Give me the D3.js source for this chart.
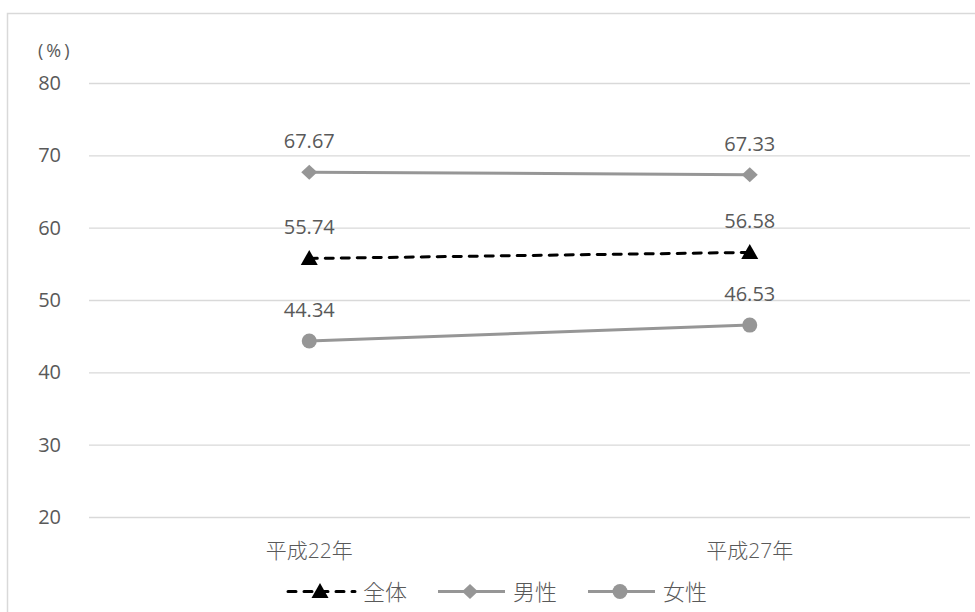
<!DOCTYPE html>
<html><head><meta charset="utf-8">
<script src="https://cdn.jsdelivr.net/npm/d3@7"></script>
<style>body{margin:0;background:#fff}</style>
</head><body>
<svg id="c" width="975" height="612"></svg>
<script>
const categories = ["平成22年", "平成27年"];
const seriesNames = ["全体", "男性", "女性"];
const zentai = [55.74, 56.58];
const dansei = [67.67, 67.33];
const josei = [44.34, 46.53];
const yTicks = [20, 30, 40, 50, 60, 70, 80];

const svg = d3.select("#c");
const font = "'Open Sans', 'Noto Sans CJK JP', sans-serif";
const cjkFont = "'Noto Sans CJK JP', sans-serif";
const txt = "#595959";
const gray = "#969696";
const fs = "20px";

svg.append("rect").attr("x", 7.5).attr("y", 13.5).attr("width", 980).attr("height", 620)
  .attr("fill", "#fff").attr("stroke", "#d9d9d9").attr("stroke-width", 1.5);

const x = d3.scaleBand().domain(categories).range([89, 970]);
const y = d3.scaleLinear().domain([20, 80]).range([517, 83]);

const yAxis = svg.append("g").attr("transform", "translate(89,0)")
  .call(d3.axisLeft(y).tickValues(yTicks).tickSize(-(970 - 89)).tickPadding(28));
yAxis.select(".domain").remove();
yAxis.selectAll("line").attr("stroke", "#d9d9d9").attr("stroke-width", 1.3);
yAxis.selectAll("text").attr("fill", txt).style("font-family", font).style("font-size", fs);

svg.append("text").attr("x", 38).attr("y", 57).attr("fill", txt)
  .style("font-family", font).style("font-size", "18px").style("letter-spacing", "3px").text("(%)");

const xAxis = svg.append("g").attr("transform", "translate(0,517)")
  .call(d3.axisBottom(x).tickSize(0).tickPadding(26));
xAxis.select(".domain").remove();
xAxis.selectAll("text").attr("fill", txt).style("font-family", font).style("font-size", "21px")
  .style("font-weight", 300);

const cx = c => x(c) + x.bandwidth() / 2;
const line = d3.line().x((d, i) => cx(categories[i])).y(d => y(d));

const series = [
  { name: seriesNames[0], vals: zentai, color: "#000", dash: "8,8", cap: "round", marker: "triangle" },
  { name: seriesNames[1], vals: dansei, color: gray, dash: null, cap: "butt", marker: "diamond" },
  { name: seriesNames[2], vals: josei, color: gray, dash: null, cap: "butt", marker: "circle" }
];

function marker(g, type, px, py, color) {
  if (type === "circle") {
    g.append("circle").attr("cx", px).attr("cy", py).attr("r", 7.5).attr("fill", color);
  } else if (type === "diamond") {
    g.append("path").attr("d", `M${px},${py - 7.5}L${px + 8},${py}L${px},${py + 7.5}L${px - 8},${py}Z`)
      .attr("fill", color);
  } else {
    g.append("path").attr("d", `M${px},${py - 8.5}L${px + 8.5},${py + 6.5}L${px - 8.5},${py + 6.5}Z`)
      .attr("fill", color);
  }
}

[series[2], series[1], series[0]].forEach(s => {
  const g = svg.append("g");
  g.append("path").attr("d", line(s.vals)).attr("fill", "none")
    .attr("stroke", s.color).attr("stroke-width", 3).attr("stroke-dasharray", s.dash)
    .attr("stroke-linecap", s.cap);
  s.vals.forEach((v, i) => {
    marker(g, s.marker, cx(categories[i]), y(v), s.color);
    g.append("text").attr("x", cx(categories[i])).attr("y", y(v) - 24)
      .attr("text-anchor", "middle").attr("fill", txt)
      .style("font-family", font).style("font-size", fs).text(v.toFixed(2));
  });
});

const legX = [287, 437, 587];
series.forEach((s, i) => {
  const g = svg.append("g");
  const lx = legX[i], ly = 591.5;
  g.append("line").attr("x1", lx + 1).attr("x2", lx + 68).attr("y1", ly).attr("y2", ly)
    .attr("stroke", s.color).attr("stroke-width", 3).attr("stroke-dasharray", s.dash)
    .attr("stroke-linecap", s.cap);
  marker(g, s.marker, lx + 33, ly, s.color);
  g.append("text").attr("x", lx + 76).attr("y", ly + 8).attr("fill", txt)
    .style("font-family", cjkFont).style("font-size", "22px").style("font-weight", 300).text(s.name);
});
</script>
</body></html>
